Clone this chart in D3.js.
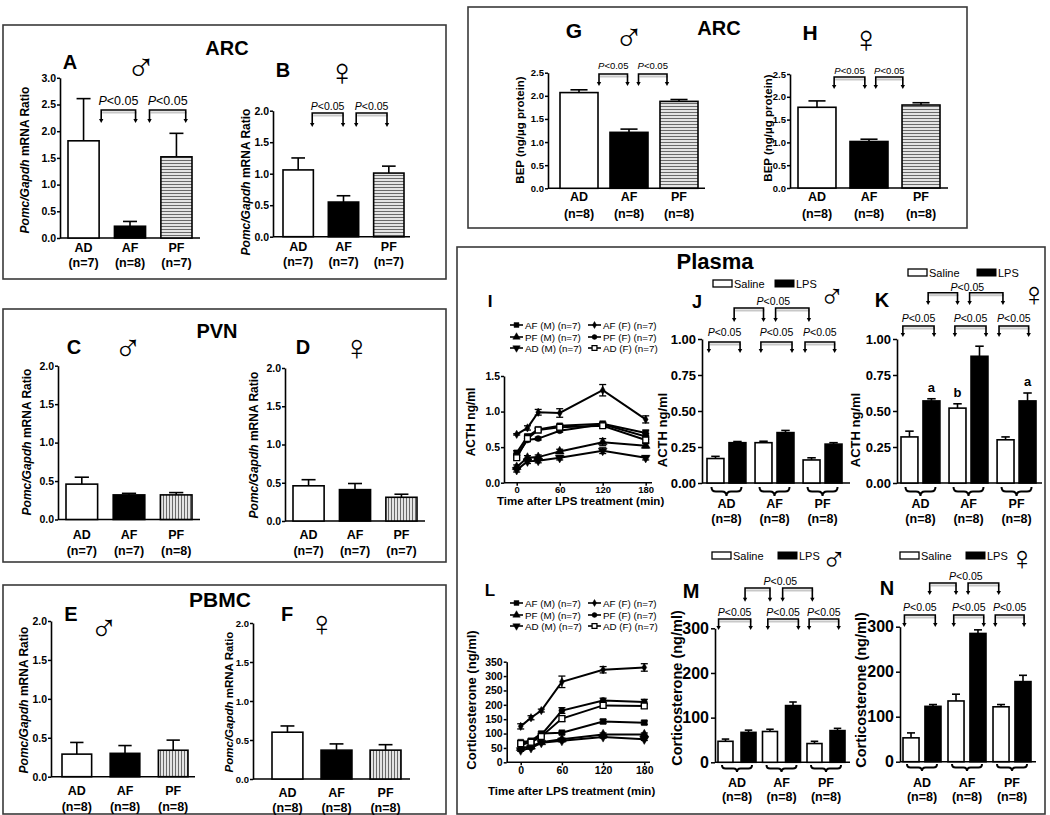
<!DOCTYPE html>
<html><head><meta charset="utf-8">
<script src="https://cdn.jsdelivr.net/npm/d3@7"></script>
<style>body{margin:0;background:#fff}svg{display:block}text{font-family:"Liberation Sans",Arial,sans-serif}</style>
</head><body><svg id="c" width="1050" height="815"></svg>
<script>
// ---------------- DATA ----------------
const groups = ["AD", "AF", "PF"];
const treatments = ["Saline", "LPS"];
// A-F : Pomc/Gapdh mRNA ratio
const arcMaleMrna = [1.82, 0.22, 1.52];
const arcMaleMrnaSem = [0.79, 0.09, 0.44];
const arcMaleN = [7, 8, 7];
const arcFemaleMrna = [1.06, 0.55, 1.01];
const arcFemaleMrnaSem = [0.19, 0.10, 0.11];
const arcFemaleN = [7, 7, 7];
const pvnMaleMrna = [0.46, 0.32, 0.32];
const pvnMaleMrnaSem = [0.09, 0.02, 0.03];
const pvnMaleN = [7, 7, 8];
const pvnFemaleMrna = [0.46, 0.41, 0.31];
const pvnFemaleMrnaSem = [0.08, 0.08, 0.04];
const pvnFemaleN = [7, 7, 7];
const pbmcMaleMrna = [0.29, 0.30, 0.34];
const pbmcMaleMrnaSem = [0.15, 0.10, 0.13];
const pbmcMaleN = [8, 8, 8];
const pbmcFemaleMrna = [0.60, 0.37, 0.37];
const pbmcFemaleMrnaSem = [0.08, 0.08, 0.07];
const pbmcFemaleN = [8, 8, 8];
// G-H : BEP (ng/ug protein)
const bepMale = [2.07, 1.21, 1.88];
const bepMaleSem = [0.06, 0.07, 0.04];
const bepFemale = [1.77, 1.02, 1.82];
const bepFemaleSem = [0.14, 0.05, 0.05];
const bepN = [8, 8, 8];
// J-K : ACTH ng/ml
const acthMaleSaline = [0.17, 0.28, 0.16];
const acthMaleSalineSem = [0.015, 0.01, 0.015];
const acthMaleLps = [0.28, 0.35, 0.27];
const acthMaleLpsSem = [0.008, 0.015, 0.01];
const acthFemaleSaline = [0.32, 0.52, 0.30];
const acthFemaleSalineSem = [0.04, 0.03, 0.02];
const acthFemaleLps = [0.57, 0.88, 0.57];
const acthFemaleLpsSem = [0.015, 0.07, 0.055];
const plasmaN = [8, 8, 8];
// M-N : Corticosterone ng/ml
const cortMaleSaline = [47, 69, 42];
const cortMaleSalineSem = [5, 5, 5];
const cortMaleLps = [67, 127, 71];
const cortMaleLpsSem = [5, 8, 5];
const cortFemaleSaline = [53, 135, 122];
const cortFemaleSalineSem = [11, 15, 5];
const cortFemaleLps = [123, 285, 178];
const cortFemaleLpsSem = [4, 8, 14];
const acthFemaleLetters = ["", "a", "b", "", "", "a"];
// I, L : time course
const timePoints = [0, 15, 30, 60, 120, 180];
const seriesLabels = ["AF (M) (n=7)", "PF (M) (n=7)", "AD (M) (n=7)", "AF (F) (n=7)", "PF (F) (n=7)", "AD (F) (n=7)"];
const acthAFM = [0.42, 0.65, 0.75, 0.80, 0.83, 0.70];
const acthAFMSem = [0.03, 0.03, 0.02, 0.02, 0.02, 0.04];
const acthPFM = [0.22, 0.35, 0.36, 0.44, 0.57, 0.52];
const acthPFMSem = [0.03, 0.03, 0.03, 0.03, 0.05, 0.03];
const acthADM = [0.18, 0.30, 0.31, 0.35, 0.45, 0.35];
const acthADMSem = [0.03, 0.03, 0.03, 0.03, 0.04, 0.03];
const acthAFF = [0.68, 0.77, 0.99, 0.98, 1.30, 0.89];
const acthAFFSem = [0.01, 0.03, 0.04, 0.06, 0.08, 0.05];
const acthPFF = [0.38, 0.60, 0.62, 0.73, 0.82, 0.65];
const acthPFFSem = [0.03, 0.02, 0.02, 0.02, 0.02, 0.04];
const acthADF = [0.35, 0.62, 0.74, 0.78, 0.80, 0.60];
const acthADFSem = [0.03, 0.03, 0.02, 0.02, 0.03, 0.04];
const cortAFM = [70, 75, 100, 103, 142, 138];
const cortAFMSem = [5, 5, 6, 5, 7, 6];
const cortPFM = [50, 55, 70, 80, 97, 97];
const cortPFMSem = [4, 4, 4, 4, 5, 5];
const cortADM = [42, 50, 68, 75, 88, 80];
const cortADMSem = [4, 4, 4, 4, 4, 4];
const cortAFF = [125, 155, 180, 280, 322, 330];
const cortAFFSem = [9, 7, 5, 20, 11, 13];
const cortPFF = [60, 70, 95, 180, 215, 210];
const cortPFFSem = [5, 5, 5, 10, 8, 9];
const cortADF = [65, 70, 90, 152, 198, 196];
const cortADFSem = [5, 5, 5, 10, 8, 8];
const markerTypes = ["sq", "tri", "tridown", "diamond", "circ", "osq"];

// ---------------- DRAWING ----------------
const svg = d3.select("#c");
const FONT = '"Liberation Sans", Arial, sans-serif';
const defs = svg.append("defs");
function stripes(id, vertical) {
  const p = defs.append("pattern").attr("id", id).attr("patternUnits", "userSpaceOnUse").attr("width", 3).attr("height", 3);
  p.append("rect").attr("width", 3).attr("height", 3).attr("fill", "#e4e4e4");
  if (vertical) p.append("line").attr("x1", 1.5).attr("x2", 1.5).attr("y1", 0).attr("y2", 3).attr("stroke", "#6a6a6a").attr("stroke-width", 1);
  else p.append("line").attr("x1", 0).attr("x2", 3).attr("y1", 1.5).attr("y2", 1.5).attr("stroke", "#6a6a6a").attr("stroke-width", 1);
}
stripes("hs", false); stripes("vs", true);

function txt(x, y, s, o = {}) {
  const t = svg.append("text").attr("x", x).attr("y", y).text(s)
    .attr("font-size", o.size || 12).attr("font-weight", o.normal ? "normal" : "bold")
    .attr("text-anchor", o.anchor || "middle").attr("fill", "#000");
  if (o.italic) t.attr("font-style", "italic");
  if (o.family) t.attr("font-family", o.family);
  return t;
}
function sex(x, y, male, size) {
  return txt(x, y, male ? "\u2642" : "\u2640", { size: size || 40, normal: true, family: '"DejaVu Sans", sans-serif' });
}
function yLabel(x, y, parts, size) {
  const t = svg.append("text").attr("transform", `translate(${x},${y}) rotate(-90)`).attr("text-anchor", "middle")
    .attr("font-size", size).attr("font-weight", "bold").attr("dominant-baseline", "central");
  parts.forEach(p => t.append("tspan").text(p[0]).attr("font-style", p[1] ? "italic" : "normal"));
}
function pText(x, y, size) {
  const t = svg.append("text").attr("x", x).attr("y", y).attr("text-anchor", "middle").attr("font-size", size).attr("font-weight", "normal");
  t.append("tspan").text("P").attr("font-style", "italic");
  t.append("tspan").text("<0.05");
}
function bracket(x1, x2, yt, yb, sw) {
  svg.append("line").attr("x1", x1 + 1).attr("x2", x2 + 1).attr("y1", yt + 2.5).attr("y2", yt + 2.5).attr("stroke", "#c8c8c8").attr("stroke-width", 2);
  svg.append("path").attr("d", `M${x1},${yb - 3}L${x1},${yt}L${x2},${yt}L${x2},${yb - 3}`).attr("fill", "none").attr("stroke", "#000").attr("stroke-width", sw || 1.6);
  [x1, x2].forEach(x => svg.append("path").attr("d", `M${x - 2.2},${yb - 4}L${x + 2.2},${yb - 4}L${x},${yb}Z`).attr("fill", "#000"));
}
function errBar(cx, y1, y2, cap) {
  svg.append("line").attr("x1", cx).attr("x2", cx).attr("y1", y1).attr("y2", y2).attr("stroke", "#000").attr("stroke-width", 1.6);
  svg.append("line").attr("x1", cx - cap / 2).attr("x2", cx + cap / 2).attr("y1", y2).attr("y2", y2).attr("stroke", "#000").attr("stroke-width", 1.6);
}
function styleAxis(ax, size) {
  ax.attr("font-family", FONT).attr("font-size", size).attr("font-weight", "bold");
  ax.select(".domain").attr("stroke-width", 1.6);
  ax.selectAll(".tick line").attr("stroke-width", 1.5);
  ax.selectAll(".tick text").attr("fill", "#000");
}
function yAxis(y, x, ticks, fmt, size, tick, pad) {
  const ax = svg.append("g").attr("transform", `translate(${x},0)`)
    .call(d3.axisLeft(y).tickValues(ticks).tickFormat(d3.format(fmt)).tickSize(tick || 4).tickSizeOuter(0).tickPadding(pad == null ? 2 : pad));
  styleAxis(ax, size);
}
function hline(x1, x2, y) {
  svg.append("line").attr("x1", x1).attr("x2", x2).attr("y1", y).attr("y2", y).attr("stroke", "#000").attr("stroke-width", 1.6);
}
function brace(x1, x2, y, h) {
  const xm = (x1 + x2) / 2, r = h / 2;
  svg.append("path").attr("d",
    `M${x1},${y}q0,${r} ${r},${r}L${xm - r},${y + r}q${r},0 ${r},${r}q0,-${r} ${r},-${r}L${x2 - r},${y + r}q${r},0 ${r},-${r}`)
    .attr("fill", "none").attr("stroke", "#000").attr("stroke-width", 2);
}

function simplePanel(o) {
  const y = d3.scaleLinear().domain([0, o.yMax]).range([o.y0, o.yTop]);
  const x = d3.scaleBand().domain(groups).range(o.band).paddingInner(o.pad).paddingOuter(0);
  const bw = x.bandwidth();
  yAxis(y, o.axisX, d3.range(0, o.yMax + 1e-9, 0.5), ".1f", o.tickSize || 10.5, 3, 1);
  hline(o.axisX, o.axisEnd, o.y0);
  groups.forEach((g, i) => {
    const v = o.values[i], e = o.sem[i], cx = x(g) + bw / 2;
    errBar(cx, y(v), y(v + e), bw * 0.45);
    svg.append("rect").attr("x", x(g)).attr("y", y(v)).attr("width", bw).attr("height", o.y0 - y(v))
      .attr("fill", o.fills[i]).attr("stroke", "#000").attr("stroke-width", 1.6);
    txt(cx, o.nY[0], g, { size: o.labelSize || 12.5 });
    txt(cx, o.nY[1], `(n=${o.ns[i]})`, { size: o.labelSize || 12.5 });
  });
  const slot = d3.scaleLinear().domain([0, 2]).range([x(groups[0]) + bw / 2, x(groups[2]) + bw / 2]);
  (o.brackets || []).forEach(b => {
    bracket(slot(b[0]), slot(b[1]), o.brY[0], o.brY[1]);
    pText((slot(b[0]) + slot(b[1])) / 2, o.brY[2], o.pSize);
  });
  yLabel(o.yl[0], o.yl[1], o.ylParts, o.ylSize || 12);
}

function pairedPanel(o) {
  const y = d3.scaleLinear().domain([0, o.yMax]).range([o.y0, o.yTop]);
  const x = d3.scaleBand().domain(groups).range(o.band).paddingInner(o.pad).paddingOuter(0);
  const xi = d3.scaleBand().domain(treatments).range([0, x.bandwidth()]).paddingInner(o.innerPad);
  const bw = xi.bandwidth();
  yAxis(y, o.axisX, o.ticks, o.fmt, o.tickSize, 4, 2);
  hline(o.axisX, o.axisEnd, o.y0);
  const series = [o.saline, o.lps], sems = [o.salineSem, o.lpsSem];
  const centers = [];
  groups.forEach((g, i) => {
    treatments.forEach((t, j) => {
      const v = series[j][i], e = sems[j][i], bx = x(g) + xi(t), cx = bx + bw / 2;
      centers.push(cx);
      errBar(cx, y(v), y(v + e), bw * 0.5);
      svg.append("rect").attr("x", bx).attr("y", y(v)).attr("width", bw).attr("height", o.y0 - y(v))
        .attr("fill", j ? "#000" : "#fff").attr("stroke", "#000").attr("stroke-width", 1.6);
      const letter = o.letters ? o.letters[i * 2 + j] : "";
      if (letter) txt(cx, y(v + e) - 7, letter, { size: 13 });
    });
    const gc = x(g) + x.bandwidth() / 2;
    brace(gc - 15, gc + 15, o.braceY, o.braceH);
    txt(gc, o.nY[0], g, { size: 12.5 });
    txt(gc, o.nY[1], `(n=${o.ns[i]})`, { size: 12.5 });
  });
  const slot = d3.scaleLinear().domain([0, 1, 2, 3, 4, 5]).range(centers);
  [[-0.3, 1.1], [1.9, 3.25], [3.75, 5.05]].forEach(b => {
    bracket(slot(b[0]), slot(b[1]), o.lowBr[0], o.lowBr[1]);
    pText((slot(b[0]) + slot(b[1])) / 2, o.lowBr[2], o.pSize);
  });
  [[0.85, 2.0], [2.55, 3.9]].forEach(b => bracket(slot(b[0]), slot(b[1]), o.topBr[0], o.topBr[1]));
  pText(slot(2.45), o.topBr[2], o.pSize);
  // legend
  svg.append("rect").attr("x", o.leg[0]).attr("y", o.leg[1]).attr("width", 19).attr("height", 7).attr("fill", "#fff").attr("stroke", "#000").attr("stroke-width", 1.3);
  txt(o.leg[0] + 21, o.leg[1] + 7.5, treatments[0], { size: 11, anchor: "start", normal: true });
  svg.append("rect").attr("x", o.leg[2]).attr("y", o.leg[1]).attr("width", 19).attr("height", 7).attr("fill", "#000").attr("stroke", "#000");
  txt(o.leg[2] + 21, o.leg[1] + 7.5, treatments[1], { size: 11, anchor: "start", normal: true });
  yLabel(o.yl[0], o.yl[1], [[o.ylText, false]], o.ylSize);
}

function marker(type, cx, cy, sz) {
  const map = { sq: d3.symbolSquare, osq: d3.symbolSquare, tri: d3.symbolTriangle, tridown: d3.symbolTriangle, diamond: d3.symbolDiamond, circ: d3.symbolCircle };
  const s = sz || 1;
  const size = { sq: 34, osq: 34, tri: 34, tridown: 34, diamond: 20, circ: 28 }[type] * s;
  svg.append("path").attr("d", d3.symbol().type(map[type]).size(size)())
    .attr("transform", `translate(${cx},${cy})${type === "tridown" ? " rotate(180)" : ""}`)
    .attr("fill", type === "osq" ? "#fff" : "#000").attr("stroke", "#000").attr("stroke-width", type === "osq" ? 1.3 : 0.5);
}

function linePanel(o) {
  const x = d3.scaleLinear().domain([0, 180]).range(o.xr);
  const y = d3.scaleLinear().domain([0, o.yMax]).range([o.y0, o.yTop]);
  yAxis(y, o.axisX, o.ticks, o.fmt, 10.5, 3, 1);
  hline(o.axisX, o.axisEnd, o.y0);
  const ax = svg.append("g").attr("transform", `translate(0,${o.y0})`)
    .call(d3.axisBottom(x).tickValues([0, 60, 120, 180]).tickSize(3).tickSizeOuter(0).tickPadding(1));
  styleAxis(ax, o.xtSize);
  ax.select(".domain").remove();
  const line = d3.line().x((d, i) => x(timePoints[i])).y(d => y(d));
  o.series.forEach((s, k) => {
    svg.append("path").attr("d", line(s)).attr("fill", "none").attr("stroke", "#000").attr("stroke-width", 2);
    s.forEach((v, i) => {
      const e = o.sems[k][i], cx = x(timePoints[i]);
      svg.append("line").attr("x1", cx).attr("x2", cx).attr("y1", y(v - e)).attr("y2", y(v + e)).attr("stroke", "#000").attr("stroke-width", 1.3);
      [v - e, v + e].forEach(w => svg.append("line").attr("x1", cx - 3.5).attr("x2", cx + 3.5).attr("y1", y(w)).attr("y2", y(w)).attr("stroke", "#000").attr("stroke-width", 1.3));
      marker(markerTypes[k], cx, y(v));
    });
  });
  seriesLabels.forEach((lab, k) => {
    const col = k < 3 ? 0 : 1, row = k % 3;
    const lx = col ? 588 : 510, ly = o.legY[row];
    svg.append("line").attr("x1", lx).attr("x2", lx + 13).attr("y1", ly).attr("y2", ly).attr("stroke", "#000").attr("stroke-width", 1.6);
    marker(markerTypes[k], lx + 6.5, ly, 0.7);
    txt(lx + 15, ly + 3.5, lab, { size: 9.8, anchor: "start", normal: true });
  });
  txt(o.xt[0], o.xt[1], "Time after LPS treatment (min)", { size: 11.5, anchor: "start" });
  yLabel(o.yl[0], o.yl[1], [[o.ylText, false]], o.ylSize);
}

// ---------------- BOXES ----------------
[[3, 25, 443, 254], [3, 309, 443, 253], [3, 585, 443, 229], [468, 7, 499, 221], [457, 247, 588, 567]].forEach(b =>
  svg.append("rect").attr("x", b[0]).attr("y", b[1]).attr("width", b[2]).attr("height", b[3]).attr("fill", "none").attr("stroke", "#3a3a3a").attr("stroke-width", 1.6));

// ---------------- A-B ----------------
txt(227, 55, "ARC", { size: 20 });
txt(70, 69, "A", { size: 20 }); sex(141, 81, true, 40);
txt(283, 77, "B", { size: 20 }); sex(342, 85, false, 38);
const mrnaLabel = [["Pomc/Gapdh", true], [" mRNA Ratio", false]];
simplePanel({ axisX: 60, axisEnd: 200, y0: 238, yTop: 77.8, yMax: 3, band: [68, 192], pad: 0.33,
  values: arcMaleMrna, sem: arcMaleMrnaSem, ns: arcMaleN, fills: ["#fff", "#000", "url(#hs)"], nY: [252, 267],
  brackets: [[0.38, 1.12], [1.42, 2.2]], brY: [110, 123, 105], pSize: 12.5, yl: [25, 160], ylParts: mrnaLabel });
simplePanel({ axisX: 273, axisEnd: 410, y0: 236.7, yTop: 110.7, yMax: 2, band: [283, 404], pad: 0.33,
  values: arcFemaleMrna, sem: arcFemaleMrnaSem, ns: arcFemaleN, fills: ["#fff", "#000", "url(#hs)"], nY: [251, 266],
  brackets: [[0.31, 0.99], [1.28, 1.96]], brY: [113, 127, 110], pSize: 10.5, yl: [246, 182], ylParts: mrnaLabel });

// ---------------- C-D ----------------
txt(217, 338, "PVN", { size: 20 });
txt(74, 354, "C", { size: 20 }); sex(128, 361, true, 38);
txt(303, 354, "D", { size: 20 }); sex(357, 360, false, 36);
simplePanel({ axisX: 58, axisEnd: 200, y0: 519.5, yTop: 365.7, yMax: 2, band: [66, 192], pad: 0.33,
  values: pvnMaleMrna, sem: pvnMaleMrnaSem, ns: pvnMaleN, fills: ["#fff", "#000", "url(#vs)"], nY: [539, 555],
  yl: [27, 442], ylParts: mrnaLabel });
simplePanel({ axisX: 285, axisEnd: 425, y0: 521, yTop: 368, yMax: 2, band: [293, 417], pad: 0.33,
  values: pvnFemaleMrna, sem: pvnFemaleMrnaSem, ns: pvnFemaleN, fills: ["#fff", "#000", "url(#vs)"], nY: [539, 555],
  yl: [254, 445], ylParts: mrnaLabel });

// ---------------- E-F ----------------
txt(220, 607, "PBMC", { size: 21 });
txt(71, 621, "E", { size: 20 }); sex(104, 641, true, 38);
txt(287, 621, "F", { size: 20 }); sex(322, 636, false, 36);
simplePanel({ axisX: 51, axisEnd: 195, y0: 776.7, yTop: 621, yMax: 2, band: [62, 188], pad: 0.385,
  values: pbmcMaleMrna, sem: pbmcMaleMrnaSem, ns: pbmcMaleN, fills: ["#fff", "#000", "url(#vs)"], nY: [795, 811],
  yl: [24, 700], ylParts: mrnaLabel });
simplePanel({ axisX: 253, axisEnd: 410, y0: 779, yTop: 623, yMax: 2, band: [272, 401], pad: 0.37, tickSize: 9.5,
  values: pbmcFemaleMrna, sem: pbmcFemaleMrnaSem, ns: pbmcFemaleN, fills: ["#fff", "#000", "url(#vs)"], nY: [797, 812],
  yl: [229, 702], ylParts: mrnaLabel, ylSize: 11.5 });

// ---------------- G-H ----------------
txt(719, 35, "ARC", { size: 20 });
txt(574, 38, "G", { size: 21 }); sex(629, 51, true, 40);
txt(810, 40, "H", { size: 21 }); sex(866, 52, false, 38);
const bepLabel = [["BEP (ng/\u00b5g protein)", false]];
simplePanel({ axisX: 548, axisEnd: 705, y0: 188.3, yTop: 72.7, yMax: 2.5, band: [560, 698], pad: 0.24, tickSize: 9.5,
  values: bepMale, sem: bepMaleSem, ns: bepN, fills: ["#fff", "#000", "url(#hs)"], nY: [201, 218],
  brackets: [[0.4, 0.97], [1.19, 1.76]], brY: [74, 86, 69], pSize: 9.5, yl: [520, 130], ylParts: bepLabel, ylSize: 11.5 });
simplePanel({ axisX: 790, axisEnd: 948, y0: 188, yTop: 74, yMax: 2.5, band: [798, 940], pad: 0.27, tickSize: 9.5,
  values: bepFemale, sem: bepFemaleSem, ns: bepN, fills: ["#fff", "#000", "url(#hs)"], nY: [201, 218],
  brackets: [[0.33, 0.92], [1.13, 1.65]], brY: [77, 89, 74], pSize: 9.5, yl: [768, 128], ylParts: bepLabel, ylSize: 11.5 });

// ---------------- Plasma ----------------
txt(715, 269, "Plasma", { size: 22 });
txt(490, 307, "I", { size: 17 });
txt(697, 308, "J", { size: 18 }); sex(832, 308, true, 34);
txt(882, 307, "K", { size: 20 }); sex(1034, 306, false, 34);
txt(490, 596, "L", { size: 17 });
txt(691, 598, "M", { size: 20 }); sex(834, 571, true, 34);
txt(887, 595, "N", { size: 20 }); sex(1022, 570, false, 34);

linePanel({ xr: [516.7, 645.7], y0: 482.7, yTop: 376, yMax: 1.5, axisX: 504, axisEnd: 652, ticks: [0, 0.5, 1, 1.5], fmt: ".1f", xtSize: 9.5,
  series: [acthAFM, acthPFM, acthADM, acthAFF, acthPFF, acthADF],
  sems: [acthAFMSem, acthPFMSem, acthADMSem, acthAFFSem, acthPFFSem, acthADFSem],
  legY: [325, 337, 348], xt: [497, 504.5], yl: [471, 422], ylText: "ACTH ng/ml", ylSize: 12 });
linePanel({ xr: [520.7, 644.3], y0: 762.3, yTop: 661.7, yMax: 350, axisX: 506.7, axisEnd: 650, ticks: d3.range(0, 351, 50), fmt: "d", xtSize: 10.5,
  series: [cortAFM, cortPFM, cortADM, cortAFF, cortPFF, cortADF],
  sems: [cortAFMSem, cortPFMSem, cortADMSem, cortAFFSem, cortPFFSem, cortADFSem],
  legY: [603, 615, 626], xt: [488, 795], yl: [471, 700], ylText: "Corticosterone (ng/ml)", ylSize: 13 });

pairedPanel({ axisX: 702, axisEnd: 850, y0: 483, yTop: 339, yMax: 1, ticks: [0, 0.25, 0.5, 0.75, 1], fmt: ".2f", tickSize: 13,
  band: [707, 842], pad: 0.19, innerPad: 0.23, saline: acthMaleSaline, salineSem: acthMaleSalineSem, lps: acthMaleLps, lpsSem: acthMaleLpsSem,
  ns: plasmaN, braceY: 487, braceH: 9, nY: [508, 523], lowBr: [342, 353, 336], topBr: [308, 322, 305], pSize: 10.5,
  leg: [713, 280, 775], yl: [662, 430], ylText: "ACTH ng/ml", ylSize: 13 });
pairedPanel({ axisX: 897, axisEnd: 1042, y0: 483, yTop: 339, yMax: 1, ticks: [0, 0.25, 0.5, 0.75, 1], fmt: ".2f", tickSize: 13,
  band: [901, 1036], pad: 0.19, innerPad: 0.23, saline: acthFemaleSaline, salineSem: acthFemaleSalineSem, lps: acthFemaleLps, lpsSem: acthFemaleLpsSem,
  ns: plasmaN, braceY: 487, braceH: 9, nY: [508, 523], lowBr: [326, 337, 322], topBr: [292.7, 305, 291], pSize: 10.5,
  leg: [908, 269, 977], letters: acthFemaleLetters, yl: [855, 430], ylText: "ACTH ng/ml", ylSize: 13 });
pairedPanel({ axisX: 715, axisEnd: 850, y0: 762.3, yTop: 628.3, yMax: 300, ticks: [0, 100, 200, 300], fmt: "d", tickSize: 16,
  band: [718, 845], pad: 0.146, innerPad: 0.35, saline: cortMaleSaline, salineSem: cortMaleSalineSem, lps: cortMaleLps, lpsSem: cortMaleLpsSem,
  ns: plasmaN, braceY: 765, braceH: 7, nY: [787, 801], lowBr: [619, 630, 616], topBr: [588, 601.7, 585], pSize: 10.5,
  leg: [712, 552, 778], yl: [677, 688], ylText: "Corticosterone (ng/ml)", ylSize: 14.5 });
pairedPanel({ axisX: 900, axisEnd: 1036, y0: 761.7, yTop: 626.7, yMax: 300, ticks: [0, 100, 200, 300], fmt: "d", tickSize: 16,
  band: [903, 1031], pad: 0.156, innerPad: 0.27, saline: cortFemaleSaline, salineSem: cortFemaleSalineSem, lps: cortFemaleLps, lpsSem: cortFemaleLpsSem,
  ns: plasmaN, braceY: 764, braceH: 7, nY: [787, 801], lowBr: [615, 627, 611], topBr: [583, 595, 580], pSize: 10.5,
  leg: [900, 552, 966], yl: [861, 690], ylText: "Corticosterone (ng/ml)", ylSize: 14.5 });
</script></body></html>
